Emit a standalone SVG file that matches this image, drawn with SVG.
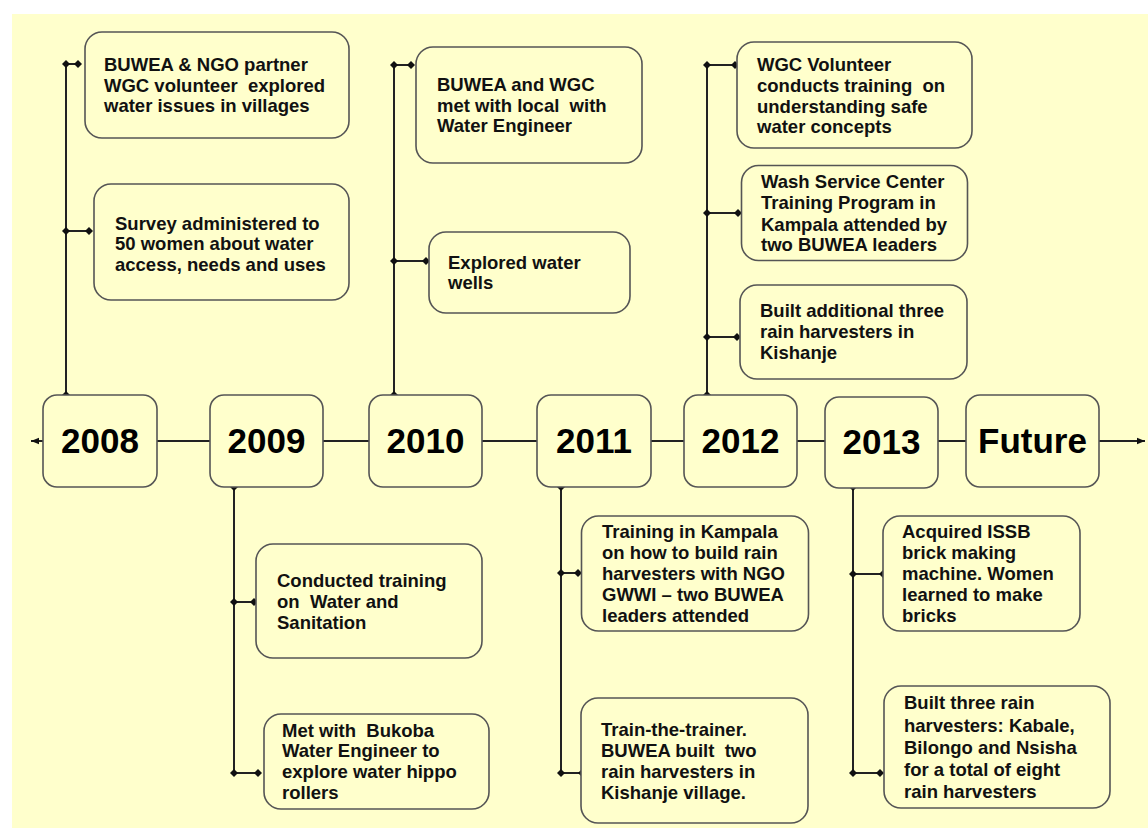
<svg xmlns="http://www.w3.org/2000/svg" xmlns:xlink="http://www.w3.org/1999/xlink" width="1148" height="828" viewBox="0 0 1148 828">
<style>
.bg{fill:#FFFFCC}
.box{fill:#FFFFCC;stroke:#555;stroke-width:1.6}
.yr{font-family:"Liberation Sans",Arial,sans-serif;font-weight:bold;font-size:35px;fill:#000;text-anchor:middle}
.ev{font-family:"Liberation Sans",Arial,sans-serif;font-weight:bold;font-size:18.5px;fill:#111;white-space:pre}
.ln{fill:none;stroke:#222;stroke-width:2}
.dot{fill:#111}
</style>
<defs>
<path id="dm" d="M-4,0 L0,-4 L4,0 L0,4Z"/>
<marker id="ah" viewBox="0 0 10 10" refX="10" refY="5" markerWidth="8" markerHeight="8" markerUnits="userSpaceOnUse" orient="auto"><path d="M0,1 L10,5 L0,9Z" fill="#111"/></marker>
</defs>
<rect class="bg" x="12" y="14" width="1136" height="814"/>

<g id="connectors">
<line class="ln" x1="43" y1="441" x2="31" y2="441" marker-end="url(#ah)"/>
<line class="ln" x1="157" y1="441" x2="210" y2="441"/>
<line class="ln" x1="323" y1="441" x2="369" y2="441"/>
<line class="ln" x1="482" y1="441" x2="537" y2="441"/>
<line class="ln" x1="651" y1="441" x2="684" y2="441"/>
<line class="ln" x1="797" y1="441" x2="825" y2="441"/>
<line class="ln" x1="938" y1="441" x2="966" y2="441"/>
<line class="ln" x1="1099" y1="441" x2="1145" y2="441" marker-end="url(#ah)"/>
<path class="ln" d="M66,395 V64 H78 M66,231 H89"/>
<path class="ln" d="M234,487 V773 H258 M234,602 H254"/>
<path class="ln" d="M394,395 V65 H411 M394,261 H426"/>
<path class="ln" d="M561,487 V773 H582 M561,573 H578"/>
<path class="ln" d="M707,395 V65 H735 M707,213 H738 M707,337 H737"/>
<path class="ln" d="M853,487 V773 H880 M853,574 H883"/>
<g class="dot">
<use xlink:href="#dm" x="66" y="395"/><use xlink:href="#dm" x="66" y="64"/><use xlink:href="#dm" x="78" y="64"/><use xlink:href="#dm" x="66" y="231"/><use xlink:href="#dm" x="89" y="231"/>
<use xlink:href="#dm" x="234" y="487"/><use xlink:href="#dm" x="234" y="602"/><use xlink:href="#dm" x="254" y="602"/><use xlink:href="#dm" x="234" y="773"/><use xlink:href="#dm" x="258" y="773"/>
<use xlink:href="#dm" x="394" y="395"/><use xlink:href="#dm" x="394" y="65"/><use xlink:href="#dm" x="411" y="65"/><use xlink:href="#dm" x="394" y="261"/><use xlink:href="#dm" x="426" y="261"/>
<use xlink:href="#dm" x="561" y="487"/><use xlink:href="#dm" x="561" y="573"/><use xlink:href="#dm" x="578" y="573"/><use xlink:href="#dm" x="561" y="773"/><use xlink:href="#dm" x="582" y="773"/>
<use xlink:href="#dm" x="707" y="395"/><use xlink:href="#dm" x="707" y="65"/><use xlink:href="#dm" x="735" y="65"/><use xlink:href="#dm" x="707" y="213"/><use xlink:href="#dm" x="738" y="213"/><use xlink:href="#dm" x="707" y="337"/><use xlink:href="#dm" x="737" y="337"/>
<use xlink:href="#dm" x="853" y="487"/><use xlink:href="#dm" x="853" y="574"/><use xlink:href="#dm" x="883" y="574"/><use xlink:href="#dm" x="853" y="773"/><use xlink:href="#dm" x="880" y="773"/>
</g>
</g>

<g id="y2008"><rect class="box" x="43" y="395" width="114" height="92" rx="14"/><text class="yr" x="100" y="453">2008</text></g>
<g id="y2009"><rect class="box" x="210" y="395" width="113" height="92" rx="14"/><text class="yr" x="266.5" y="453">2009</text></g>
<g id="y2010"><rect class="box" x="369" y="395" width="113" height="92" rx="14"/><text class="yr" x="425.5" y="453">2010</text></g>
<g id="y2011"><rect class="box" x="537" y="395" width="114" height="92" rx="14"/><text class="yr" x="594" y="453">2011</text></g>
<g id="y2012"><rect class="box" x="684" y="395" width="113" height="92" rx="14"/><text class="yr" x="740.5" y="453">2012</text></g>
<g id="y2013"><rect class="box" x="825" y="397" width="113" height="91" rx="14"/><text class="yr" x="881.5" y="454">2013</text></g>
<g id="yFuture"><rect class="box" x="966" y="395" width="133" height="92" rx="14"/><text class="yr" x="1032.5" y="453">Future</text></g>

<g id="evA"><rect class="box" x="85" y="32" width="264" height="106" rx="17"/><text class="ev"><tspan x="104" y="71">BUWEA &amp; NGO partner</tspan><tspan x="104" y="91.5">WGC volunteer  explored</tspan><tspan x="104" y="112">water issues in villages</tspan></text></g>
<g id="evB"><rect class="box" x="94" y="184" width="255" height="116" rx="17"/><text class="ev"><tspan x="115" y="229.5">Survey administered to</tspan><tspan x="115" y="250">50 women about water</tspan><tspan x="115" y="270.5">access, needs and uses</tspan></text></g>
<g id="evC"><rect class="box" x="416" y="47" width="226" height="116" rx="17"/><text class="ev"><tspan x="437" y="90.7">BUWEA and WGC</tspan><tspan x="437" y="111.5">met with local  with</tspan><tspan x="437" y="132">Water Engineer</tspan></text></g>
<g id="evD"><rect class="box" x="429" y="232" width="201" height="81" rx="17"/><text class="ev"><tspan x="448" y="268.7">Explored water</tspan><tspan x="448" y="289">wells</tspan></text></g>
<g id="evE"><rect class="box" x="737" y="42" width="235" height="106" rx="17"/><text class="ev"><tspan x="757" y="70.7">WGC Volunteer</tspan><tspan x="757" y="91.7">conducts training  on</tspan><tspan x="757" y="112.5">understanding safe</tspan><tspan x="757" y="133.3">water concepts</tspan></text></g>
<g id="evF"><rect class="box" x="741.5" y="165.5" width="226" height="95" rx="17"/><text class="ev"><tspan x="761" y="188.3">Wash Service Center</tspan><tspan x="761" y="209.3">Training Program in</tspan><tspan x="761" y="230.5">Kampala attended by</tspan><tspan x="761" y="251">two BUWEA leaders</tspan></text></g>
<g id="evG"><rect class="box" x="740" y="285" width="227" height="94" rx="17"/><text class="ev"><tspan x="760" y="316.7">Built additional three</tspan><tspan x="760" y="338">rain harvesters in</tspan><tspan x="760" y="359">Kishanje</tspan></text></g>
<g id="evH"><rect class="box" x="256" y="544" width="226" height="114" rx="17"/><text class="ev"><tspan x="277" y="587">Conducted training</tspan><tspan x="277" y="608">on  Water and</tspan><tspan x="277" y="629">Sanitation</tspan></text></g>
<g id="evI"><rect class="box" x="264" y="714" width="225" height="95" rx="17"/><text class="ev"><tspan x="282" y="736.7">Met with  Bukoba</tspan><tspan x="282" y="757">Water Engineer to</tspan><tspan x="282" y="778">explore water hippo</tspan><tspan x="282" y="799">rollers</tspan></text></g>
<g id="evJ"><rect class="box" x="581.5" y="516" width="227" height="115" rx="17"/><text class="ev"><tspan x="602" y="538.3">Training in Kampala</tspan><tspan x="602" y="559">on how to build rain</tspan><tspan x="602" y="580">harvesters with NGO</tspan><tspan x="602" y="600.7">GWWI – two BUWEA</tspan><tspan x="602" y="621.7">leaders attended</tspan></text></g>
<g id="evK"><rect class="box" x="581" y="698" width="227" height="125" rx="17"/><text class="ev"><tspan x="601" y="736">Train-the-trainer.</tspan><tspan x="601" y="757">BUWEA built  two</tspan><tspan x="601" y="778">rain harvesters in</tspan><tspan x="601" y="798.5">Kishanje village.</tspan></text></g>
<g id="evL"><rect class="box" x="883" y="516" width="197" height="115" rx="17"/><text class="ev"><tspan x="902" y="538.3">Acquired ISSB</tspan><tspan x="902" y="559">brick making</tspan><tspan x="902" y="580">machine. Women</tspan><tspan x="902" y="601">learned to make</tspan><tspan x="902" y="622">bricks</tspan></text></g>
<g id="evM"><rect class="box" x="884" y="686" width="226" height="122" rx="17"/><text class="ev"><tspan x="904" y="709.3">Built three rain</tspan><tspan x="904" y="731.5">harvesters: Kabale,</tspan><tspan x="904" y="753.5">Bilongo and Nsisha</tspan><tspan x="904" y="776">for a total of eight</tspan><tspan x="904" y="798">rain harvesters</tspan></text></g>
</svg>
